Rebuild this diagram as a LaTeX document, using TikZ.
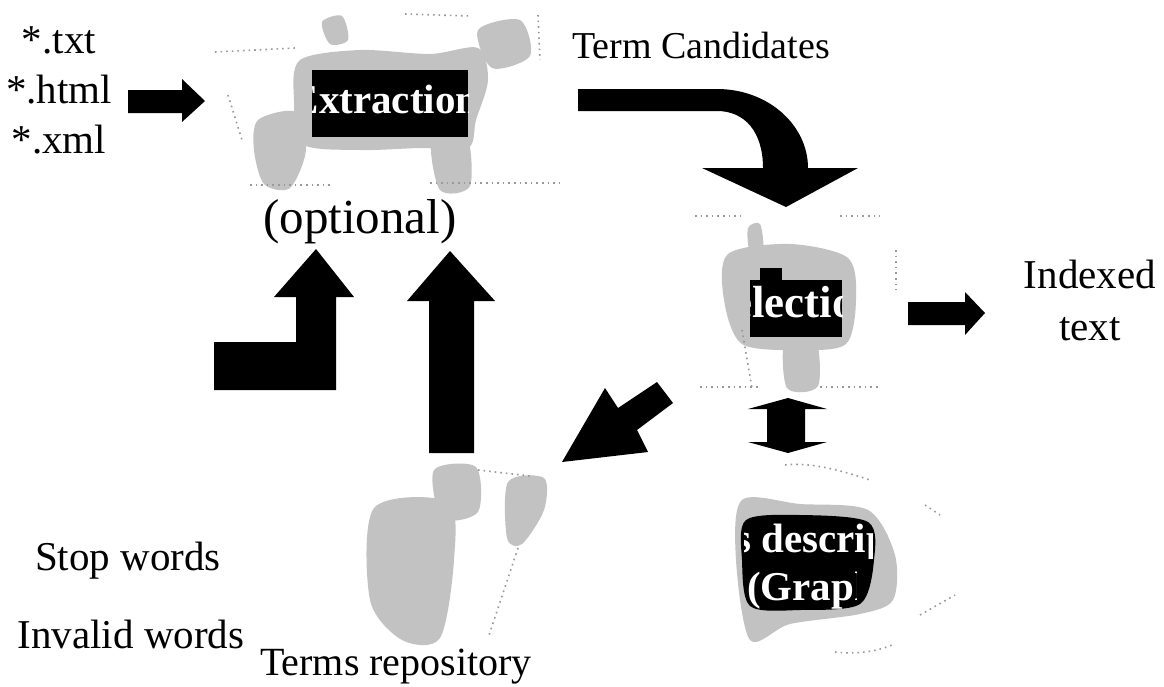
\documentclass[tikz,border=0pt]{standalone}
\usepackage{fontspec}
\setmainfont{Liberation Serif}
\usetikzlibrary{patterns}
\begin{document}
\begin{tikzpicture}[x=1pt,y=-1pt,
  lbl/.style={font=\fontsize{41}{48}\selectfont, inner sep=0pt, anchor=base},
  blockarrow/.style={fill=black, draw=none},
  noise/.style={fill=gray!48},
  speck/.style={draw=gray!80, line width=1.6pt, dash pattern=on 1.6pt off 4pt},
  wtxt/.style={text=white, font=\bfseries\fontsize{41}{48}\selectfont, inner sep=0pt, anchor=base west}]
\useasboundingbox[fill=white] (0,0) rectangle (1164,686);

% ---------- texts ----------
\node[lbl] (txt) at (59,53) {*.txt};
\node[lbl] (html) at (59,103) {*.html};
\node[lbl] (xml) at (59,153) {*.xml};
\node[lbl, font=\fontsize{38}{44}\selectfont] (cand) at (701,58) {Term Candidates};
\node[lbl, font=\fontsize{49}{56}\selectfont] (opt) at (360,233) {(optional)};
\node[lbl] (idx1) at (1090,288) {Indexed};
\node[lbl] (idx2) at (1090,340) {text};
\node[lbl] (stop) at (128,570) {Stop words};
\node[lbl] (inv) at (131,648) {Invalid words};
\node[lbl, font=\fontsize{40}{46}\selectfont] (repo) at (396,675) {Terms repository};

% ---------- Extraction picture ----------
\fill[noise] plot[smooth cycle] coordinates {(300,60) (360,50) (430,54) (478,48) (488,80) (476,120) (468,148) (420,148) (360,150) (302,144) (294,100)};
\fill[noise] plot[smooth cycle] coordinates {(432,140) (466,134) (470,186) (440,190)};
\fill[noise] plot[smooth cycle] coordinates {(258,120) (296,112) (306,150) (290,188) (264,184) (254,150)};
\fill[noise] plot[smooth cycle] coordinates {(478,30) (520,20) (530,56) (492,68)};
\fill[noise] plot[smooth cycle] coordinates {(322,22) (342,16) (348,40) (330,44)};
\draw[speck] (215,52) -- (295,48);
\draw[speck] (228,95) -- (242,140);
\draw[speck] (538,15) -- (540,60);
\draw[speck] (250,185) -- (330,185);
\draw[speck] (430,183) -- (560,183);
\draw[speck] (405,14) -- (470,16);
\fill[black] (312,70) rectangle (468,137);
\begin{scope}
  \clip (312,70) rectangle (468,137);
  \node[wtxt] (ext) at (291.5,113) {Extraction};
\end{scope}

% ---------- Selection picture ----------
\fill[noise] plot[smooth cycle] coordinates {(728,254) (790,244) (848,258) (856,300) (846,344) (800,350) (742,344) (724,300)};
\fill[noise] plot[smooth cycle] coordinates {(785,338) (815,336) (818,386) (787,388)};
\fill[noise] plot[smooth cycle] coordinates {(748,228) (760,224) (763,250) (750,252)};
\draw[speck] (742,330) -- (752,388);
\draw[speck] (695,216) -- (740,216);
\draw[speck] (840,216) -- (880,216);
\draw[speck] (700,387) -- (760,387);
\draw[speck] (820,387) -- (880,387);
\draw[speck] (896,250) -- (896,290);
\fill[black] (750,280) rectangle (842,337);
\fill[black] (760,268) rectangle (782,282);
\begin{scope}
  \clip (750,268) rectangle (842,337);
  \node[wtxt, font=\bfseries\fontsize{45}{50}\selectfont] (sel) at (707,317) {Selection};
\end{scope}

% ---------- Terms description picture ----------
\fill[noise] plot[smooth cycle] coordinates {(742,500) (800,504) (868,510) (895,555) (893,600) (860,614) (790,624) (750,640) (736,560)};
\draw[speck] (785,465) .. controls (810,462) and (840,470) .. (870,480);
\draw[speck] (925,505) -- (940,515);
\draw[speck] (920,615) -- (955,595);
\draw[speck] (835,652) .. controls (860,655) and (880,650) .. (892,645);
\fill[black] plot[smooth cycle] coordinates {(746,520) (800,515) (868,522) (874,560) (860,604) (800,610) (750,606) (742,560)};
\begin{scope}
  \clip (744,512) rectangle (872,558);
  \node[wtxt] (desc) at (641,552) {Terms description};
\end{scope}
\begin{scope}
  \clip (744,560) rectangle (856,612);
  \node[wtxt] (graph) at (747,600) {(Graph)};
\end{scope}

% ---------- Terms repository picture ----------
\fill[noise] plot[smooth cycle] coordinates {(374,508) (448,502) (454,560) (440,638) (402,640) (370,600)};
\fill[noise] plot[smooth cycle] coordinates {(434,470) (476,467) (478,512) (442,518)};
\fill[noise] plot[smooth cycle] coordinates {(508,482) (544,478) (544,510) (522,544) (507,538)};
\draw[speck] (518,548) -- (488,638);
\draw[speck] (478,470) -- (530,476);

% ---------- block arrows ----------
\fill[blockarrow] (128,90) -- (182,90) -- (182,79) -- (205,101) -- (182,122) -- (182,113) -- (128,113) -- cycle;
\fill[blockarrow] (578,89) -- (717,89) .. controls (768,89) and (808,125) .. (808,168) -- (858,168) -- (786,207) -- (702,168) -- (763,168) .. controls (763,132) and (745,111) .. (717,111) -- (578,111) -- cycle;
\fill[blockarrow] (908,302) -- (965,302) -- (965,292) -- (985,313) -- (965,335) -- (965,325) -- (908,325) -- cycle;
\fill[blockarrow] (788,398) -- (827,409) -- (805,409) -- (805,442) -- (827,442) -- (788,453) -- (748,442) -- (767,442) -- (767,409) -- (748,409) -- cycle;
\fill[blockarrow] (562,462) -- (605,388) -- (618,408) -- (657,382) -- (673,403) -- (637,430) -- (648,452) -- cycle;
\fill[blockarrow] (450,251) -- (495,301) -- (474,301) -- (474,453) -- (429,453) -- (429,301) -- (407,301) -- cycle;
\fill[blockarrow] (316,249) -- (354,297) -- (336,297) -- (336,390) -- (214,390) -- (214,342) -- (296,342) -- (296,297) -- (274,297) -- cycle;
\end{tikzpicture}
\end{document}
